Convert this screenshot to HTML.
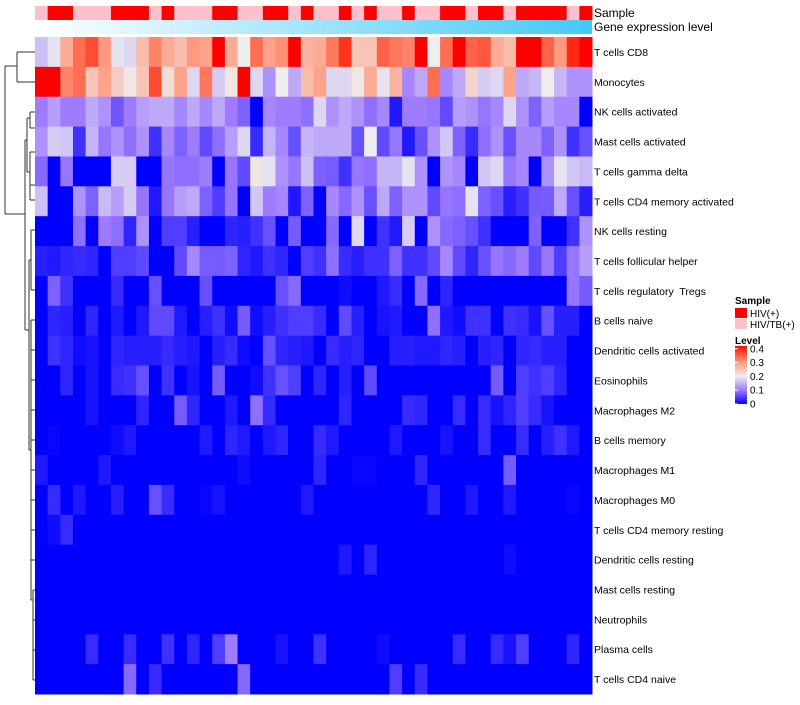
<!DOCTYPE html>
<html><head><meta charset="utf-8"><style>
body{margin:0;background:#fff;}
svg text{font-family:"Liberation Sans",Arial,sans-serif;white-space:pre;}
</style></head><body>
<svg id="chart" width="800" height="700" xmlns="http://www.w3.org/2000/svg">
<defs><linearGradient id="geneGrad" x1="0" x2="1" y1="0" y2="0"><stop offset="0" stop-color="#ffffff"/><stop offset="1" stop-color="#45c8f5"/></linearGradient>
<linearGradient id="levelGrad" x1="0" x2="0" y1="1" y2="0"><stop offset="0" stop-color="#0000ff"/><stop offset="0.24" stop-color="#9e7bff"/><stop offset="0.48" stop-color="#eeeeee"/><stop offset="0.72" stop-color="#ff9a80"/><stop offset="0.95" stop-color="#ff2a10"/><stop offset="1" stop-color="#ff0000"/></linearGradient></defs>
<g id="cells"></g>
<rect x="35" y="20" width="557" height="14" fill="url(#geneGrad)"/>
<text x="594" y="17" font-size="12">Sample</text>
<text x="594" y="31" font-size="12">Gene expression level</text>
<g id="labels"></g>
<g id="dendro" stroke="#333" stroke-width="1" fill="none">
<path d="M5,66 V214 M5,66 H17 M17,52 V82 M17,52 H35 M17,82 H35 M5,214 H25 M25,140 V330 M25,140 H27 M27,118 V172 M27,118 H30 M30,112 V128 M30,112 H35 M30,128 H35 M27,172 H30 M30,152 V200 M30,152 H35 M30,200 H35 M30,185 H35 M25,330 H29 M29,260 V450 M29,260 H31 M31,230 V290 M31,230 H35 M31,290 H35 M29,450 H31 M31,320 V600 M31,350 H35 M31,380 H35 M31,410 H35 M31,440 H35 M31,470 H35 M31,500 H35 M31,530 H35 M31,560 H35 M31,600 H33 M33,590 V680 M33,590 H35 M33,620 H35 M33,650 H35 M33,680 H35 M31,320 H35"/>
</g>
<text x="735" y="304" font-size="10" font-weight="bold">Sample</text>
<rect x="735" y="308" width="12" height="10" fill="#ff0000"/>
<text x="750" y="317" font-size="10">HIV(+)</text>
<rect x="735" y="319" width="12" height="10" fill="#ffc0cb"/>
<text x="750" y="328" font-size="10">HIV/TB(+)</text>
<text x="735" y="344" font-size="10" font-weight="bold">Level</text>
<rect x="735" y="346" width="12" height="58" fill="url(#levelGrad)"/>
<g id="levelticks"></g>
</svg>
<script>
const rowNames=["T cells CD8","Monocytes","NK cells activated","Mast cells activated","T cells gamma delta","T cells CD4 memory activated","NK cells resting","T cells follicular helper","T cells regulatory  Tregs","B cells naive","Dendritic cells activated","Eosinophils","Macrophages M2","B cells memory","Macrophages M1","Macrophages M0","T cells CD4 memory resting","Dendritic cells resting","Mast cells resting","Neutrophils","Plasma cells","T cells CD4 naive"];
const sampleGroups=["P","R","R","P","P","P","R","R","R","P","R","P","P","P","R","R","P","P","R","R","P","R","P","P","R","P","R","P","P","R","P","P","R","R","P","R","R","P","R","R","R","R","P","R"];
const levelTicks=[0,0.1,0.2,0.3,0.4];
const r0=[.16,.19,.28,.34,.37,.30,.19,.18,.26,.32,.28,.26,.30,.29,.42,.28,.20,.34,.29,.31,.42,.27,.28,.33,.39,.25,.25,.35,.33,.32,.42,.20,.34,.42,.35,.36,.28,.26,.42,.42,.35,.30,.40,.42];
const r1=[.42,.42,.32,.34,.25,.29,.24,.21,.25,.37,.22,.29,.18,.33,.17,.21,.42,.18,.12,.20,.14,.26,.29,.18,.18,.21,.28,.19,.27,.11,.14,.34,.11,.14,.23,.17,.18,.29,.14,.15,.20,.15,.12,.12];
const r2=[.10,.13,.10,.10,.14,.12,.07,.10,.13,.14,.14,.11,.14,.11,.14,.10,.08,0,.11,.10,.10,.09,.18,.12,.14,.12,.09,.11,.02,.10,.10,.095,.06,.13,.12,.095,.11,.18,.12,.08,.13,.11,.11,0];
const r3=[.12,.17,.165,.04,.15,.095,.12,.09,.12,.04,.11,.08,.10,.06,.09,.13,.18,.035,.15,.11,.065,.15,.14,.14,.14,.065,.20,.06,.095,.02,.065,.12,.165,.08,.035,.09,.12,.065,.11,.11,.08,.12,.04,.065];
const r4=[.085,0,.095,0,0,0,.17,.17,0,0,.095,.09,.09,.10,0,.095,.06,.21,.19,.12,.095,.16,.08,.075,.04,.095,.09,.15,.15,.19,.12,0,.12,.11,0,.165,.18,.095,.11,0,.12,.19,.165,.155];
const r5=[.16,0,0,.12,.08,.155,.13,.17,.095,.02,.095,.13,.14,.08,.05,.095,0,.165,.10,.11,.02,.08,0,.11,.085,.12,.065,.14,.08,.12,.12,.06,.095,.09,.19,.08,.065,.025,.04,.075,.075,.14,.065,.025];
const r6=[0,0,0,.09,0,.10,.09,.03,.12,0,.05,.05,.025,0,0,.03,.025,.04,.065,0,.075,0,0,.085,0,.18,0,.04,.02,.17,0,.12,.085,.08,.065,.04,0,0,0,.08,0,0,.04,.12];
const r7=[.025,.02,.03,.035,.03,0,.05,.05,.06,0,0,.06,.11,.075,.075,.08,.03,.02,.04,.03,0,.05,.04,.09,.035,.025,.04,.04,.08,.04,.04,.06,.11,.06,.03,.065,.095,.085,.10,.06,.095,.05,.095,.13];
const r8=[0,.08,.04,0,0,0,.035,0,0,.065,0,0,0,.065,0,0,0,0,0,.065,.085,0,0,0,.01,0,0,.02,.035,0,.085,0,.03,0,0,0,0,0,0,0,0,0,.095,.075];
const r9=[0,.03,.025,0,.03,0,.02,0,.02,.06,.06,.02,0,.025,.04,.01,.075,.01,.025,.04,.05,.05,.035,0,.06,.025,0,.015,.02,0,0,.09,.02,.01,.04,.04,0,.04,.035,.015,.065,.025,.025,0];
const r10=[0,.04,.03,.01,.015,0,.03,.025,.025,.025,.035,.025,.02,0,.025,.035,.01,0,.065,.03,.025,.02,0,.035,.025,.03,0,0,.025,.025,.02,.02,.03,.025,0,.025,.03,0,.03,.035,.025,.025,0,0];
const r11=[0,0,.03,0,.015,0,.035,.04,.065,0,.04,0,.015,0,.075,0,0,.01,.04,.065,.05,0,.03,0,.025,0,.06,0,0,0,0,0,0,0,0,0,.075,0,.05,.04,.05,.03,0,0];
const r12=[0,0,0,0,.015,0,0,0,.03,0,0,.075,.03,0,0,.02,0,.09,.035,0,0,0,0,0,.03,0,0,0,0,.035,.03,0,0,.035,0,.035,.015,.03,.05,.035,.015,0,0,0];
const r13=[0,.005,0,0,0,0,.01,.02,0,0,0,0,0,.02,0,.03,.02,0,.02,.03,0,0,.035,.02,0,0,0,0,.02,0,0,0,.015,0,0,.035,0,0,.035,0,.025,.04,.02,0];
const r14=[.02,0,0,0,0,.02,0,0,0,0,0,0,0,0,0,0,.01,0,0,0,0,0,.03,0,0,.005,.005,0,0,0,.03,0,0,0,0,0,0,.075,0,0,0,0,0,0];
const r15=[0,.035,0,.02,0,0,.025,0,0,.065,.035,0,0,.005,.015,0,0,0,0,0,0,.02,0,0,0,0,0,0,0,0,0,.03,0,0,.02,0,0,.02,0,0,0,0,.005,0];
const r16=[0,.01,.035,0,0,0,0,0,0,0,0,0,0,0,0,0,0,0,0,0,0,0,0,0,0,0,0,0,0,0,0,0,0,0,0,0,0,0,0,0,0,0,0,0];
const r17=[0,0,0,0,0,0,0,0,0,0,0,0,0,0,0,0,0,0,0,0,0,0,0,0,.02,0,.03,0,0,0,0,0,0,0,0,0,0,.01,0,0,0,0,0,0];
const r18=[0,0,0,0,0,0,0,0,0,0,0,0,0,0,0,0,0,0,0,0,0,0,0,0,0,0,0,0,0,0,0,0,0,0,0,0,0,0,0,0,0,0,0,0];
const r19=[0,0,0,0,0,0,0,0,0,0,0,0,0,0,0,0,0,0,0,0,0,0,0,0,0,0,0,0,0,0,0,0,0,0,0,0,0,0,0,0,0,0,0,0];
const r20=[0,0,0,0,.035,0,0,.035,0,0,.04,0,.03,0,.05,.10,0,0,0,.015,0,0,.04,0,0,0,0,.01,0,0,0,0,0,.035,0,0,.035,.015,.05,0,0,0,.03,0];
const r21=[0,0,0,0,0,0,0,.085,0,.035,0,0,0,0,0,0,.085,0,0,0,0,0,0,0,0,0,0,0,.05,0,.035,0,0,0,0,0,0,0,0,0,0,0,0,0];
const values=[r0,r1,r2,r3,r4,r5,r6,r7,r8,r9,r10,r11,r12,r13,r14,r15,r16,r17,r18,r19,r20,r21];

const X0=35,X1=592,Y0=37,Y1=694;
const nCol=sampleGroups.length,nRow=rowNames.length;
const cw=(X1-X0)/nCol,rh=(Y1-Y0)/nRow;
const xPos=i=>X0+i*cw, yPos=j=>Y0+j*rh;
const stops=[[0,[0,0,255]],[0.1,[158,123,255]],[0.2,[238,238,238]],[0.3,[255,154,128]],[0.4,[255,42,16]],[0.42,[255,0,0]]];
function color(v){
  if(v<=0)return'rgb(0,0,255)';
  for(let k=1;k<stops.length;k++){if(v<=stops[k][0]){const a=stops[k-1],b=stops[k],t=(v-a[0])/(b[0]-a[0]);
    return'rgb('+a[1].map((c,i)=>Math.round(c+(b[1][i]-c)*t)).join(',')+')';}}
  return'rgb(255,0,0)';
}
const NS='http://www.w3.org/2000/svg';
const cells=document.getElementById('cells');
sampleGroups.forEach((g,i)=>{
  const r=document.createElementNS(NS,'rect');
  r.setAttribute('x',xPos(i));r.setAttribute('y',6);r.setAttribute('width',cw+0.5);r.setAttribute('height',14);
  r.setAttribute('fill',g==='R'?'#ff0000':'#ffc0cb');
  
  
  cells.appendChild(r);
});
values.forEach((row,j)=>row.forEach((v,i)=>{
  const r=document.createElementNS(NS,'rect');
  r.setAttribute('x',xPos(i));r.setAttribute('y',yPos(j));r.setAttribute('width',cw+0.5);r.setAttribute('height',rh+0.5);
  r.setAttribute('fill',color(v));
  
  
  cells.appendChild(r);
}));
const labels=document.getElementById('labels');
rowNames.forEach((n,j)=>{
  const t=document.createElementNS(NS,'text');
  t.setAttribute('x',594);t.setAttribute('y',yPos(j)+rh/2+4);t.setAttribute('font-size','10.5');
  t.textContent=n;
  
  
  labels.appendChild(t);
});
const lt=document.getElementById('levelticks');
levelTicks.forEach(v=>{
  const y=404-v/0.42*58;
  const t=document.createElementNS(NS,'text');
  t.setAttribute('x',750);t.setAttribute('y',y+3.5);t.setAttribute('font-size','10');
  t.textContent=String(v);
  
  
  lt.appendChild(t);
  const l=document.createElementNS(NS,'line');
  l.setAttribute('x1',735);l.setAttribute('x2',738);l.setAttribute('y1',y);l.setAttribute('y2',y);l.setAttribute('stroke','#fff');
  
  
  lt.appendChild(l);
});
</script>
</body></html>
